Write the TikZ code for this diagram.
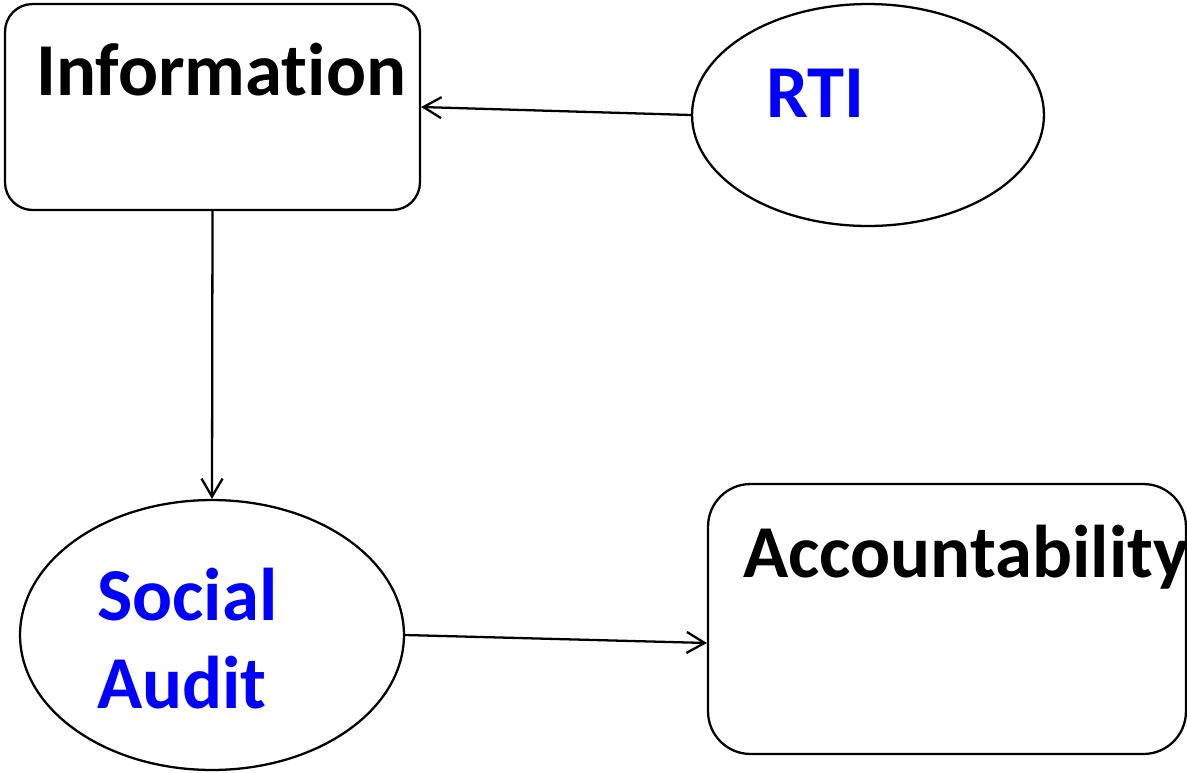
\documentclass[tikz,border=0pt]{standalone}
\usepackage{fontspec}
\setmainfont{Carlito}[Ligatures=NoCommon]
\usetikzlibrary{shapes.geometric,arrows.meta}
\definecolor{labelblue}{RGB}{0,0,255}

\begin{document}
\begin{tikzpicture}
[x=0.02cm,y=-0.02cm,line width=1.3pt,>={Straight Barb[length=0.36cm,width=0.42cm]},
box/.style={draw,rounded corners=0.55cm,inner sep=0pt},
oval/.style={draw,ellipse,inner sep=0pt},
word/.style={inner sep=0pt,anchor=base west,font=\fontsize{42.5}{50}\selectfont\bfseries},
]

%Canvas
\useasboundingbox (0,0) rectangle (1187,772);

%Shapes
\node (info) at (212.5,107)[box,minimum width=8.3cm,minimum height=4.12cm] {};
\node (rti) at (868,115)[oval,minimum width=7.04cm,minimum height=4.44cm] {};
\node (social) at (212,635)[oval,minimum width=7.68cm,minimum height=5.4cm] {};
\node (acc) at (947,619)[box,rounded corners=0.85cm,minimum width=9.56cm,minimum height=5.4cm] {};

%Labels
\node (infotext) at (35,95)[word] {Information};
\node (rtitext) at (765,117)[word,labelblue] {RTI};
\node (socialtext) at (96,620)[word,labelblue] {Social};
\node (audittext) at (96,708)[word,labelblue] {Audit};
\node (acctext) at (742,577)[word] {Accountability};

%Links
\draw[->] (rti.west) -- (info.east);
\draw[->] (info.south) -- (social.north);
\draw[->] (social.east) -- ([yshift=-0.48cm]acc.west);
\end{tikzpicture}
\end{document}
